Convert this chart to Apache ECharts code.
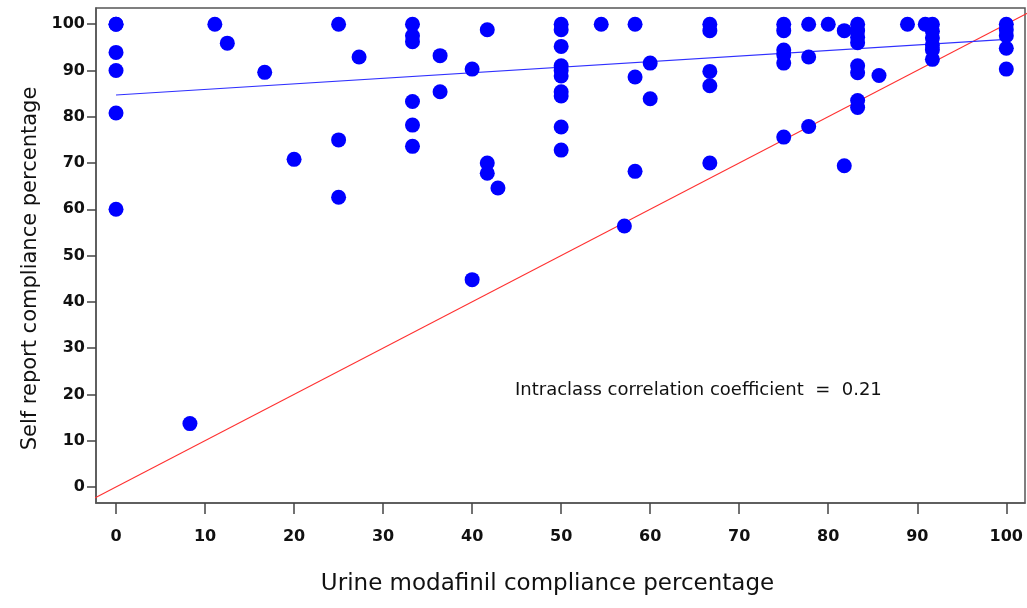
<!DOCTYPE html>
<html>
<head>
<meta charset="utf-8">
<script src="https://cdn.jsdelivr.net/npm/echarts@6/dist/echarts.min.js"></script>
<style>
html,body{margin:0;padding:0;background:#fff;}
#chart{width:1027px;height:608px;}
</style>
</head>
<body>
<div id="chart"></div>
<script>
// Urine modafinil compliance (%) per subject
const urineX = [
  0, 0, 0, 0, 0, 0,
  8.3,
  11.1,
  12.5,
  16.7,
  20,
  25, 25, 25,
  27.3,
  33.3, 33.3, 33.3, 33.3, 33.3, 33.3,
  36.4, 36.4,
  40, 40,
  41.7, 41.7, 41.7,
  42.9,
  50, 50, 50, 50, 50, 50, 50, 50, 50, 50,
  54.5,
  57.1,
  58.3, 58.3, 58.3,
  60, 60,
  66.7, 66.7, 66.7, 66.7, 66.7,
  75, 75, 75, 75, 75, 75,
  77.8, 77.8, 77.8,
  80,
  81.8, 81.8,
  83.3, 83.3, 83.3, 83.3, 83.3, 83.3, 83.3, 83.3,
  85.7,
  88.9,
  90.9,
  91.7, 91.7, 91.7, 91.7, 91.7, 91.7,
  100, 100, 100, 100, 100
];
// Self report compliance (%) per subject
const selfY = [
  100, 100, 93.9, 90.0, 80.8, 60.0,
  13.7,
  100,
  95.9,
  89.6,
  70.8,
  100, 75.0, 62.6,
  92.9,
  100, 97.5, 96.2, 83.3, 78.2, 73.6,
  93.2, 85.4,
  90.3, 44.8,
  98.8, 70.0, 67.8,
  64.6,
  100, 98.8, 95.2, 91.0, 90.0, 88.8, 85.4, 84.5, 77.8, 72.8,
  100,
  56.4,
  100, 88.6, 68.2,
  91.6, 83.9,
  100, 98.6, 89.8, 86.7, 70.0,
  100, 98.6, 94.4, 93.4, 91.6, 75.6,
  100, 92.9, 77.9,
  100,
  98.6, 69.4,
  100, 98.6, 97.2, 96.0, 91.0, 89.5, 83.5, 82.0,
  88.9,
  100,
  100,
  100, 98.5, 97.0, 95.5, 94.5, 92.4,
  100, 98.8, 97.5, 94.8, 90.3
];
// Fitted regression line (endpoints)
const fitX = [0, 100];
const fitY = [84.7, 96.7];
// Line of identity (y = x)
const identX = [-5, 105];
const identY = [-5, 105];
// Tick labels
const xTicks = [0, 10, 20, 30, 40, 50, 60, 70, 80, 90, 100];
const yTicks = [0, 10, 20, 30, 40, 50, 60, 70, 80, 90, 100];
const annotation = 'Intraclass correlation coefficient  =  0.21';
const xTitle = 'Urine modafinil compliance percentage';
const yTitle = 'Self report compliance percentage';

const FONT = '"DejaVu Sans", "Liberation Sans", Arial, sans-serif';
const chart = echarts.init(document.getElementById('chart'), null, {renderer: 'canvas'});

const points = urineX.map((x, i) => [x, selfY[i]]);
const fitData = fitX.map((x, i) => [x, fitY[i]]);
const identData = identX.map((x, i) => [x, identY[i]]);

const labelStyle = {color: '#111', fontSize: 16, fontFamily: FONT, fontWeight: 'bold'};

chart.setOption({
  animation: false,
  backgroundColor: '#fff',
  grid: {left: 96, top: 8, width: 929, height: 495, show: true, borderColor: '#555', borderWidth: 1.5, backgroundColor: 'transparent'},
  xAxis: {
    type: 'value', min: -2.25, max: 102.1,
    name: xTitle, nameLocation: 'middle', nameGap: 70,
    nameTextStyle: {color: '#111', fontSize: 23, fontFamily: FONT, padding: [0, 26, 0, 0]},
    axisLine: {show: true, onZero: false, lineStyle: {color: '#555', width: 1.5}},
    axisTick: {show: true, inside: false, length: 11, customValues: xTicks, lineStyle: {color: '#444', width: 1.5}},
    axisLabel: {margin: 26, customValues: xTicks, ...labelStyle},
    splitLine: {show: false}
  },
  yAxis: {
    type: 'value', min: -3.46, max: 103.5,
    name: yTitle, nameLocation: 'middle', nameGap: 51,
    nameTextStyle: {color: '#111', fontSize: 21, fontFamily: FONT, padding: [0, 26, 0, 0]},
    axisLine: {show: true, onZero: false, lineStyle: {color: '#555', width: 1.5}},
    axisTick: {show: true, inside: false, length: 9, customValues: yTicks, lineStyle: {color: '#444', width: 1.5}},
    axisLabel: {margin: 11, customValues: yTicks, ...labelStyle},
    splitLine: {show: false}
  },
  graphic: [{
    type: 'text', left: 515, top: 381,
    style: {text: annotation, fill: '#111', font: '18px ' + FONT}
  }],
  series: [
    {
      type: 'line', data: identData, clip: true, symbol: 'none',
      lineStyle: {color: '#ff3030', width: 1.2}, z: 1, silent: true
    },
    {
      type: 'line', data: fitData, symbol: 'none',
      lineStyle: {color: '#3030ff', width: 1.2}, z: 2, silent: true
    },
    {
      type: 'scatter', data: points, symbol: 'circle', symbolSize: 15,
      itemStyle: {color: '#0000ff', opacity: 1}, z: 3
    }
  ]
});
</script>
</body>
</html>
